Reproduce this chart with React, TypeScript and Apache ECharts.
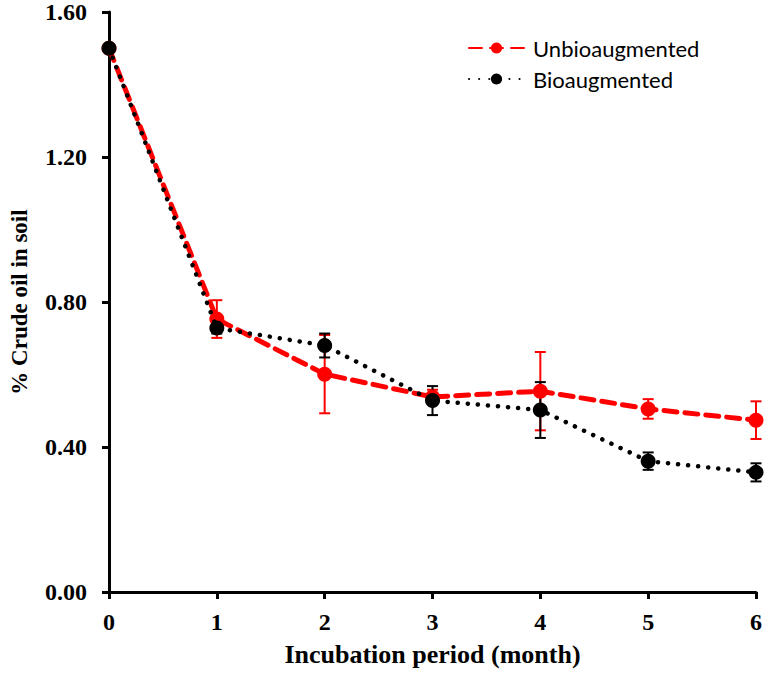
import React, { useEffect, useRef } from "react";
import * as echarts from "echarts";

const months = [0, 1, 2, 3, 4, 5, 6];
const unbioMean = [1.5, 0.753, 0.601, 0.538, 0.554, 0.505, 0.474];
const unbioErr = [0.0, 0.052, 0.108, 0.02, 0.108, 0.027, 0.052];
const bioMean = [1.5, 0.728, 0.68, 0.528, 0.502, 0.361, 0.33];
const bioErr = [0.0, 0.015, 0.033, 0.04, 0.077, 0.024, 0.025];
const yTicks = [0, 0.4, 0.8, 1.2, 1.6];

const serif = "'Liberation Serif', 'Times New Roman', serif";

function errorSeries(name: string, mean: number[], err: number[], color: string, z: number) {
  return {
    type: "custom",
    name: name + "-err",
    z,
    silent: true,
    data: months.map((m, i) => [m, mean[i] - err[i], mean[i] + err[i]]),
    renderItem: (params: any, api: any) => {
      const x = api.value(0);
      const lo = api.coord([x, api.value(1)]);
      const hi = api.coord([x, api.value(2)]);
      const hw = 5.5;
      const style = { stroke: color, lineWidth: 2 };
      return {
        type: "group",
        children: [
          { type: "line", shape: { x1: lo[0], y1: lo[1], x2: hi[0], y2: hi[1] }, style },
          { type: "line", shape: { x1: lo[0] - hw, y1: lo[1], x2: lo[0] + hw, y2: lo[1] }, style },
          { type: "line", shape: { x1: hi[0] - hw, y1: hi[1], x2: hi[0] + hw, y2: hi[1] }, style },
        ],
      };
    },
  };
}

export default function App() {
  const ref = useRef<HTMLDivElement>(null);
  useEffect(() => {
    document.body.style.margin = "0";
    const chart = echarts.init(ref.current!, undefined, { renderer: "svg" });
    chart.setOption({
      animation: false,
      backgroundColor: "#fff",
      grid: { left: 104, right: 7, top: 12, bottom: 85 },
      legend: {
        orient: "vertical",
        left: 463,
        top: 32,
        itemWidth: 55,
        itemHeight: 14,
        itemGap: 9,
        data: ["Unbioaugmented", "Bioaugmented"],
        textStyle: { fontFamily: "Lato, 'Noto Sans', sans-serif", fontSize: 22, color: "#000", padding: [0, 0, 0, 4] },
      },
      xAxis: {
        type: "value",
        min: 0,
        max: 6,
        interval: 1,
        name: "Incubation period (month)",
        nameLocation: "middle",
        nameGap: 49,
        nameTextStyle: { fontFamily: serif, fontWeight: "bold", fontSize: 26, color: "#000" },
        axisLine: { lineStyle: { color: "#000", width: 3 } },
        axisTick: { length: 7, lineStyle: { color: "#000", width: 3 } },
        axisLabel: { fontFamily: serif, fontWeight: "bold", fontSize: 24, color: "#000", margin: 18 },
        splitLine: { show: false },
      },
      yAxis: {
        type: "value",
        min: yTicks[0],
        max: yTicks[yTicks.length - 1],
        interval: 0.4,
        name: "% Crude oil in soil",
        nameLocation: "middle",
        nameGap: 78,
        nameTextStyle: { fontFamily: serif, fontWeight: "bold", fontSize: 23, color: "#000" },
        axisLine: { show: true, lineStyle: { color: "#000", width: 3 } },
        axisTick: { show: true, length: 7, lineStyle: { color: "#000", width: 3 } },
        axisLabel: {
          fontFamily: serif,
          fontWeight: "bold",
          fontSize: 24,
          color: "#000",
          margin: 22,
          formatter: (v: number) => v.toFixed(2),
        },
        splitLine: { show: false },
      },
      series: [
        errorSeries("Unbioaugmented", unbioMean, unbioErr, "#ff0000", 1),
        errorSeries("Bioaugmented", bioMean, bioErr, "#000000", 2),
        {
          type: "line",
          name: "Unbioaugmented",
          z: 3,
          data: months.map((m, i) => [m, unbioMean[i]]),
          symbol: "circle",
          symbolSize: 15,
          itemStyle: { color: "#ff0000" },
          lineStyle: { color: "#ff0000", width: 5, type: [13, 8], cap: "round" },
        },
        {
          type: "line",
          name: "Bioaugmented",
          z: 4,
          data: months.map((m, i) => [m, bioMean[i]]),
          symbol: "circle",
          symbolSize: 15,
          itemStyle: { color: "#000000" },
          lineStyle: { color: "#000000", width: 4.5, type: [0.1, 10], cap: "round" },
        },
      ],
    });
    return () => chart.dispose();
  }, []);
  return <div ref={ref} style={{ width: 765, height: 677 }} />;
}
